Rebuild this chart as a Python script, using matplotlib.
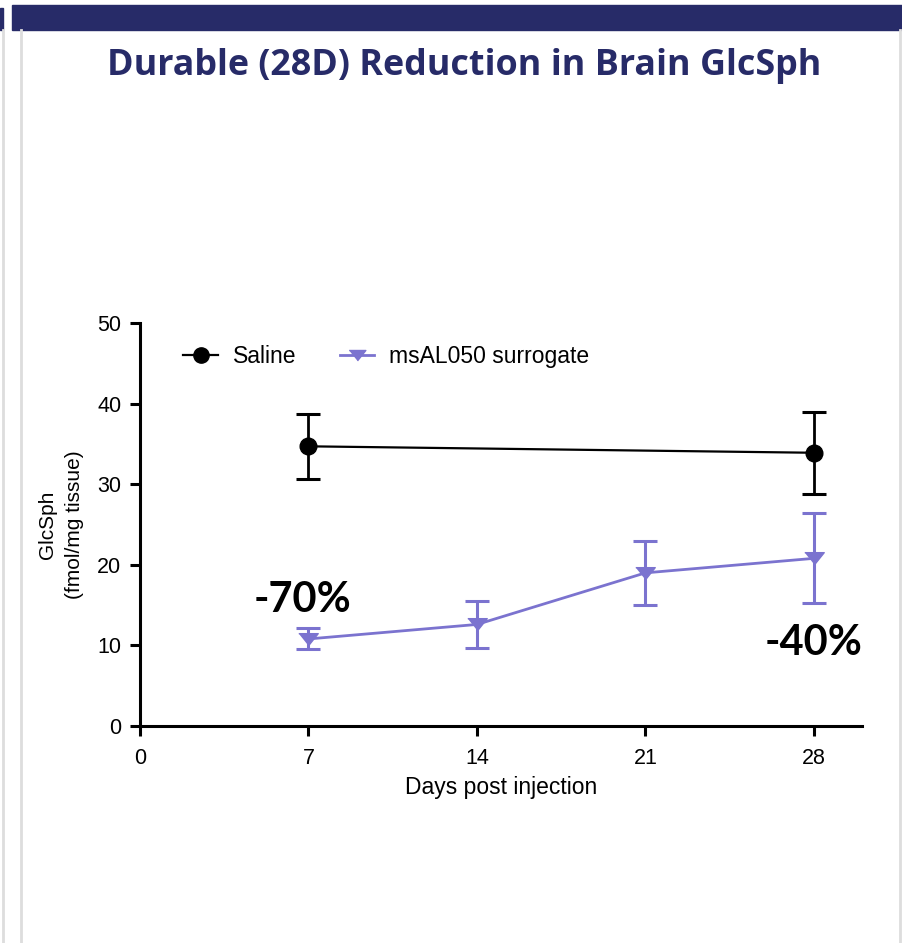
import numpy as np
import matplotlib
matplotlib.use("Agg")
import matplotlib.pyplot as plt
from matplotlib.patches import Rectangle
from matplotlib.lines import Line2D

# data
days_saline = [7, 28]
saline_mean = [34.7, 33.9]
saline_err = [4.0, 5.1]

days_ms = [7, 14, 21, 28]
ms_mean = [10.8, 12.6, 19.0, 20.8]
ms_err = [1.3, 2.9, 4.0, 5.6]

xticks = [0, 7, 14, 21, 28]
yticks = [0, 10, 20, 30, 40, 50]

navy = "#272B68"
purple = "#7B73CF"

plt.rcParams["font.family"] = ["Liberation Sans", "DejaVu Sans"]

fig = plt.figure(figsize=(9.02, 9.43), dpi=100)

# slide decoration: top band and frame lines
fig.patches.append(Rectangle((12 / 902, 1 - 30 / 943), 1, 25 / 943,
                             transform=fig.transFigure, color=navy, zorder=0))
fig.patches.append(Rectangle((0, 1 - 30 / 943), 3 / 902, 22 / 943,
                             transform=fig.transFigure, color=navy, zorder=0))
for xp in [3, 21, 900]:
    fig.lines.append(Line2D([xp / 902, xp / 902], [0, 1 - 30 / 943],
                            transform=fig.transFigure, color="#dddddd", lw=2))

fig.text(464 / 902, 1 - 66 / 943, "Durable (28D) Reduction in Brain GlcSph",
         ha="center", va="center", color=navy, fontsize=25.8,
         fontweight="bold", family=["Open Sans", "DejaVu Sans"])

ax = fig.add_axes([140 / 902, 217 / 943, 722 / 902, 403 / 943])

tri = [(-1, 0.6), (1, 0.6), (0, -0.65)]

ax.errorbar(days_saline, saline_mean, yerr=saline_err, fmt="-o", color="black",
            lw=1.6, ms=12, elinewidth=2.0, capsize=8.6, capthick=2.2, zorder=3)
ax.errorbar(days_ms, ms_mean, yerr=ms_err, fmt="-", marker=tri, color=purple,
            lw=2.0, ms=14, elinewidth=2.2, capsize=8.6, capthick=2.2, zorder=3)

ax.set_xlim(0, 30)
ax.set_ylim(0, 50)
ax.set_xticks(xticks)
ax.set_yticks(yticks)

for s in ["top", "right"]:
    ax.spines[s].set_visible(False)
for s in ["left", "bottom"]:
    ax.spines[s].set_linewidth(2.2)

ax.tick_params(axis="both", length=7.5, width=2.2, labelsize=15.5)
ax.tick_params(axis="y", pad=6)
ax.tick_params(axis="x", pad=8)

ax.set_xlabel("Days post injection", fontsize=16.5)
ax.xaxis.set_label_coords(0.5, -0.125)
ax.set_ylabel("GlcSph\n(fmol/mg tissue)", fontsize=15, linespacing=1.5)
ax.yaxis.set_label_coords(-0.078, 0.5)

ax.text(6.75, 15.6, "-70%", ha="center", va="center", fontsize=30,
        fontweight="bold", family=["Lato", "DejaVu Sans"])
ax.text(28, 10.3, "-40%", ha="center", va="center", fontsize=30,
        fontweight="bold", family=["Lato", "DejaVu Sans"])

handles = [
    Line2D([], [], color="black", lw=1.6, marker="o", ms=11),
    Line2D([], [], color=purple, lw=2.0, marker=tri, ms=12),
]
labels = ["Saline", "msAL050 surrogate"]
ax.legend(handles, labels, loc="center left", bbox_to_anchor=(0.06, 0.916),
          ncol=2, frameon=False, fontsize=16.5, handlelength=1.5,
          handletextpad=0.65, columnspacing=1.9, borderpad=0, borderaxespad=0)

fig.savefig("out.png", dpi=100)
